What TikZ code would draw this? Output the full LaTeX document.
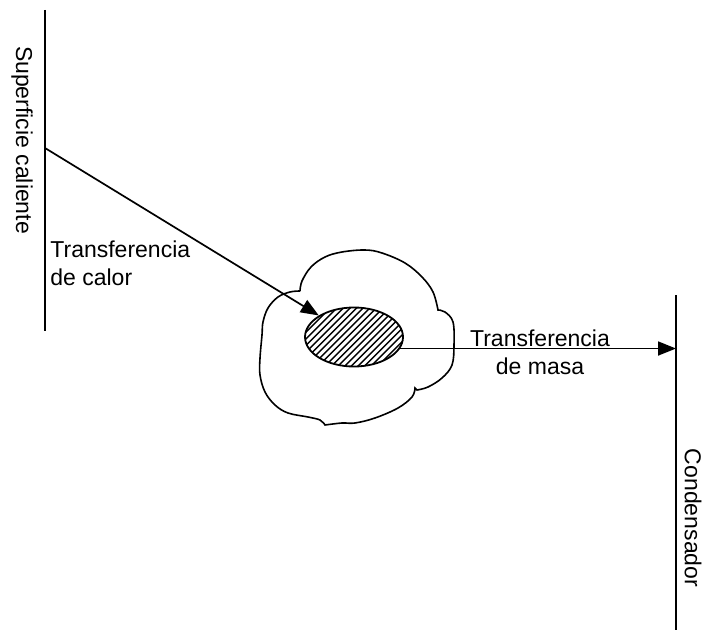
\documentclass[tikz,border=0pt]{standalone}
\usepackage{fontspec}
\setmainfont{Liberation Sans}
\usepackage{tikz}
\usetikzlibrary{arrows.meta,shapes.geometric}

\begin{document}
\begin{tikzpicture}[x=0.5pt,y=-0.5pt,
		wall/.style={line width=0.8pt},
		flow/.style={line width=0.85pt,-{Triangle[length=9pt,width=7pt]}},
		lbl/.style={inner sep=0pt,font=\fontsize{11.5}{14}\selectfont},
		drop/.style={draw,ellipse,line width=0.9pt,minimum width=49pt,minimum height=29.5pt,inner sep=0pt},
		hatch/.style={line width=0.7pt},
		blob/.style={line width=0.8pt}]
	\useasboundingbox (0,0) rectangle (704,630);
	% hot surface
	\coordinate (hot top) at (45,10);
	\coordinate (hot bot) at (45,331);
	\coordinate (hot src) at (45,148);
	\draw[wall] (hot top) -- (hot bot);
	\node[lbl,rotate=-90] (hot lbl) at (22,140) {Superficie caliente};
	% condenser
	\coordinate (cond top) at (676,295);
	\coordinate (cond bot) at (676,630);
	\draw[wall] (cond top) -- (cond bot);
	\node[lbl,rotate=-90] (cond lbl) at (693,518) {Condensador};
	% the blob round the drop, four lobes
	\draw[blob] plot[smooth,tension=0.6] coordinates {(300,291) (302,281) (311,267) (325,257) (342,252) (365,250) (382,253) (405,263) (422,277) (433,292) (438,310)}
		-- plot[smooth,tension=0.6] coordinates {(438,310) (445,312) (453,322) (454,345) (452,365) (442,378) (428,387) (417,390)}
		-- plot[smooth,tension=0.6] coordinates {(415,388) (412,397) (398,408) (375,418) (355,423) (342,423) (325,425)}
		-- plot[smooth,tension=0.6] coordinates {(325,425) (320,420) (308,417) (288,413) (275,405) (265,392) (260,375) (260,358) (262,335) (263,322) (268,308) (278,297) (290,292) (300,291)};
	% the drop, hatched
	\node[drop] (drop) at (354,337) {};
	\begin{scope}
		\clip (drop.center) ellipse [x radius=24.5pt,y radius=14.75pt];
		\foreach \s in {-12,...,12}
			\draw[hatch] (drop.center) ++(\s*6.6-40,40) -- ++(80,-80);
	\end{scope}
	% heat flow
	\draw[flow] (hot src) -- (drop);
	\node[lbl,anchor=north west,align=left] (heat lbl) at (50,240) {Transferencia\\de calor};
	% mass flow
	\draw[flow] (drop.-14) -- (drop.-14 -| cond top);
	\node[lbl,align=center] (mass lbl) at (540,352) {Transferencia\\de masa};
\end{tikzpicture}
\end{document}
